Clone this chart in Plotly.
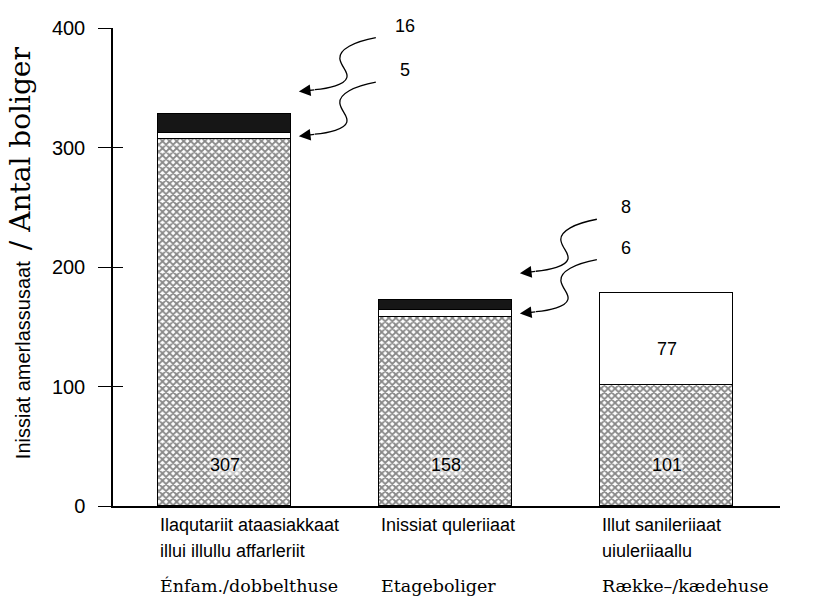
import plotly.graph_objects as go

# ---- data ----
categories = ["Énfam./dobbelthuse", "Etageboliger", "Række–/kædehuse"]
labels_kl = [["Ilaqutariit ataasiakkaat", "illui illullu affarleriit"],
             ["Inissiat quleriiaat"],
             ["Illut sanileriiaat", "uiuleriiaallu"]]
hatched = [307, 158, 101]
white = [5, 6, 77]
black = [16, 8, 0]
y_ticks = [0, 100, 200, 300, 400]
y_title_kl = "Inissiat amerlassusaat"
y_title_da = "/ Antal boliger"

SANS = "Liberation Sans, Arial, sans-serif"
SERIF = "DejaVu Serif, serif"
BAR_W = 0.6

fig = go.Figure()
outline = dict(color="black", width=1.5)

fig.add_trace(go.Bar(
    x=categories, y=hatched, width=BAR_W, showlegend=False,
    marker=dict(color="white", line=outline,
                pattern=dict(shape="x", size=5, solidity=0.6,
                             fgcolor="#111111", bgcolor="white")),
    hoverinfo="skip"))
fig.add_trace(go.Bar(
    x=categories, y=white, width=BAR_W, showlegend=False,
    marker=dict(color="white", line=outline),
    hoverinfo="skip"))
fig.add_trace(go.Bar(
    x=categories, y=[b if b > 0 else None for b in black], width=BAR_W, showlegend=False,
    marker=dict(color="#161616", line=outline),
    hoverinfo="skip"))

# value labels
for i, cat in enumerate(categories):
    fig.add_annotation(x=i, y=0, yanchor="middle", yshift=41, text=str(hatched[i]),
                       showarrow=False, bgcolor="rgba(255,255,255,0.55)", borderpad=0,
                       font=dict(family=SANS, size=18, color="black"))
    if white[i] >= 20:
        fig.add_annotation(x=i, y=hatched[i] + white[i] / 2, yanchor="middle",
                           yshift=-10, text=str(white[i]), showarrow=False,
                           font=dict(family=SANS, size=18, color="black"))

# squiggly call-out arrows for the small segments
squiggle = [(77, 54), (55, 50), (40, 42), (41, 33), (42, 25), (50, 20), (48, 14),
            (46, 7), (30, 3), (16, 2)]


def squiggle_path(dx, dy):
    p = [(x + dx, y + dy) for x, y in squiggle]
    s = "M {},{} ".format(*p[0])
    s += "C {},{} {},{} {},{} ".format(*p[1], *p[2], *p[3])
    s += "C {},{} {},{} {},{} ".format(*p[4], *p[5], *p[6])
    s += "C {},{} {},{} {},{}".format(*p[7], *p[8], *p[9])
    return s


for i in range(len(categories)):
    segs = [(white[i], hatched[i] + white[i] / 2, 0),
            (black[i], hatched[i] + white[i] + black[i] / 2, 32)]
    for val, ymid, up in segs:
        if 0 < val < 20:
            xr = i + BAR_W / 2
            tip_dx = 8
            fig.add_shape(type="path", xref="x", yref="y",
                          xsizemode="pixel", ysizemode="pixel",
                          xanchor=xr, yanchor=ymid,
                          path=squiggle_path(tip_dx, up),
                          line=dict(color="black", width=1.3))
            fig.add_annotation(x=xr, y=ymid, xshift=tip_dx, yshift=up,
                               ax=17, ay=-2, text="", showarrow=True,
                               arrowhead=2, arrowsize=1.8, arrowwidth=1.3,
                               arrowcolor="black")
            fig.add_annotation(x=xr, y=ymid, xshift=tip_dx + 106, yshift=up + 66,
                               text=str(val), showarrow=False,
                               font=dict(family=SANS, size=18, color="black"))

# category labels
for i, (kl_lines, da) in enumerate(zip(labels_kl, categories)):
    for j, line in enumerate(kl_lines):
        fig.add_annotation(x=i - BAR_W / 2, y=0, xref="x", yref="paper",
                           xanchor="left", yanchor="middle", yshift=-19 - 26 * j,
                           align="left", text=line, showarrow=False,
                           font=dict(family=SANS, size=18, color="black"))
    fig.add_annotation(x=i - BAR_W / 2, y=0, xref="x", yref="paper",
                       xanchor="left", yanchor="middle", yshift=-80, align="left",
                       text=da, showarrow=False,
                       font=dict(family=SERIF, size=17.5, color="black"))

# y-axis title (mixed fonts)
fig.add_annotation(
    x=0, y=0.529, xref="paper", yref="paper", xshift=-93, textangle=-90,
    xanchor="center", yanchor="middle", showarrow=False,
    text=y_title_kl + "\u00a0\u00a0<span style=\"font-family:DejaVu Serif, serif; font-size:28px\">"
    + y_title_da + "</span>",
    font=dict(family=SANS, size=20, color="black"))

fig.update_layout(
    barmode="stack",
    width=818, height=601,
    margin=dict(l=113, r=38, t=28, b=95),
    paper_bgcolor="white", plot_bgcolor="white",
    bargap=0,
    xaxis=dict(type="category", categoryorder="array", categoryarray=categories,
               range=[-0.5045, 2.513], showticklabels=False, ticks="",
               showline=True, linecolor="black", linewidth=1.5,
               showgrid=False, zeroline=False, fixedrange=True),
    yaxis=dict(range=[0, 400], tickvals=y_ticks, ticks="outside", ticklen=13,
               tickwidth=1.3, tickcolor="black", ticklabelstandoff=9,
               showline=True, linecolor="black", linewidth=1.5,
               showgrid=False, zeroline=False,
               tickfont=dict(family=SANS, size=20, color="black")),
    yaxis2=dict(range=[0, 400], tickvals=y_ticks, overlaying="y", side="left",
                anchor="x", ticks="inside", ticklen=10, tickwidth=1.3,
                tickcolor="black", showticklabels=False, showline=False,
                showgrid=False, zeroline=False),
)
# invisible trace to activate the second y axis (inside tick marks)
fig.add_trace(go.Scatter(x=categories, y=[None] * len(categories), yaxis="y2",
                         showlegend=False, hoverinfo="skip"))

fig.write_html("out.html", config={"displayModeBar": False},
               post_script="document.body.style.margin='0';")
